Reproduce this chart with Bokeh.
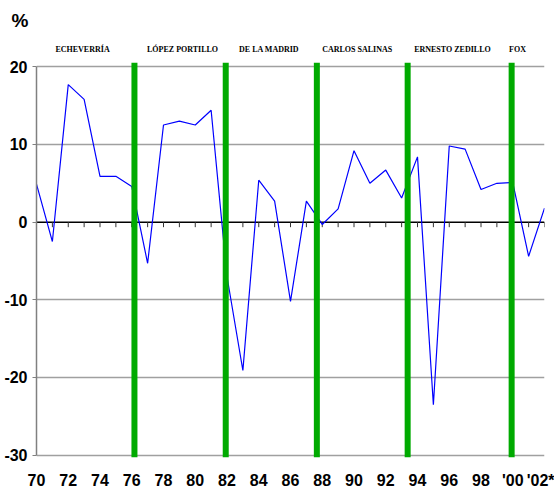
from bokeh.plotting import figure
from bokeh.models import Range1d, FixedTicker, LinearAxis
from bokeh.embed import file_html
from bokeh.resources import INLINE

# Annual growth rate, 1970-2002 (x axis uses two-digit years, 100 = 2000)
years = list(range(70, 103))
growth = [4.9, -2.5, 17.7, 15.8, 5.9, 5.9, 4.6, -5.3, 12.5, 13.0, 12.5, 14.4,
          -7.0, -19.1, 5.4, 2.7, -10.2, 2.7, -0.3, 1.7, 9.2, 5.0, 6.7, 3.1,
          8.4, -23.5, 9.8, 9.4, 4.2, 5.0, 5.1, -4.4, 1.8]

# Changes of presidential term and the name of each term
term_changes = [76.17, 81.92, 87.66, 93.38, 99.93]
presidents = ["ECHEVERRÍA", "LÓPEZ PORTILLO", "DE LA MADRID",
              "CARLOS SALINAS", "ERNESTO ZEDILLO", "FOX"]
president_x = [72.9, 79.2, 84.65, 90.2, 96.2, 100.3]

x_ticks = list(range(70, 103, 2))
x_tick_labels = ["70", "72", "74", "76", "78", "80", "82", "84", "86", "88",
                 "90", "92", "94", "96", "98", "'00", "'02*"]
y_ticks = [-30, -20, -10, 0, 10, 20]
y_tick_labels = ["-30", "-20", "-10", "0", "10", "20"]

NUM_FONT = "'Liberation Sans Narrow', 'Arial Narrow', 'Liberation Sans', sans-serif"

p = figure(width=554, height=491, output_backend="svg", toolbar_location=None,
           x_range=Range1d(70, 102), y_range=Range1d(-30.3, 20.55),
           min_border_left=36, min_border_right=10,
           min_border_top=0, min_border_bottom=33)
p.outline_line_color = None
p.background_fill_color = "white"

# unit marker in the top-left corner
p.title.text = "%"
p.title.align = "left"
p.title.vertical_align = "top"
p.title.offset = -25
p.title.standoff = 18
p.title.text_font = "Liberation Sans"
p.title.text_font_style = "bold"
p.title.text_font_size = "19px"
p.title.text_color = "black"

# y axis
yax = p.yaxis[0]
yax.ticker = FixedTicker(ticks=y_ticks)
yax.major_label_overrides = {t: s for t, s in zip(y_ticks, y_tick_labels)}
yax.bounds = (-30, 20)
yax.axis_line_color = "#808080"
yax.axis_line_width = 1.5
yax.major_tick_line_color = "#808080"
yax.major_tick_out = 4
yax.major_tick_in = 0
yax.minor_tick_line_color = None
yax.major_label_standoff = 5
yax.major_label_text_font = NUM_FONT
yax.major_label_text_font_style = "bold"
yax.major_label_text_font_size = "16px"
yax.major_label_text_color = "black"

# x axis
xax = p.xaxis[0]
xax.ticker = FixedTicker(ticks=x_ticks)
xax.major_label_overrides = {t: s for t, s in zip(x_ticks, x_tick_labels)}
xax.axis_line_color = None
xax.major_tick_line_color = None
xax.major_tick_out = 0
xax.minor_tick_line_color = None
xax.major_label_standoff = 14
xax.major_label_text_font = NUM_FONT
xax.major_label_text_font_style = "bold"
xax.major_label_text_font_size = "16px"
xax.major_label_text_color = "black"

# president names along the top
top = LinearAxis(ticker=FixedTicker(ticks=president_x))
top.major_label_overrides = {t: s for t, s in zip(president_x, presidents)}
top.axis_line_color = None
top.major_tick_line_color = None
top.major_tick_out = 0
top.major_tick_in = 0
top.minor_tick_line_color = None
top.major_label_standoff = 9
top.major_label_text_font = "Liberation Serif"
top.major_label_text_font_style = "bold"
top.major_label_text_font_size = "8px"
top.major_label_text_color = "black"
p.add_layout(top, "above")

# grid
p.xgrid.grid_line_color = None
p.ygrid.ticker = FixedTicker(ticks=[t for t in y_ticks if t != 0])
p.ygrid.grid_line_color = "#a0a0a0"
p.ygrid.grid_line_width = 1.5

# zero line with yearly ticks
p.line(x=[years[0], years[-1]], y=[0, 0], line_color="black", line_width=1.5)
p.segment(x0=years, y0=[0] * len(years), x1=years, y1=[-0.65] * len(years),
          line_color="#333333", line_width=1)

# growth series
p.line(x=years, y=growth, line_color="#0000ff", line_width=1.2)

# term change markers
p.segment(x0=term_changes, y0=[-30.3] * len(term_changes),
          x1=term_changes, y1=[20.55] * len(term_changes),
          line_color="#00aa00", line_width=6)

open("out.html", "w").write(file_html(p, INLINE))
